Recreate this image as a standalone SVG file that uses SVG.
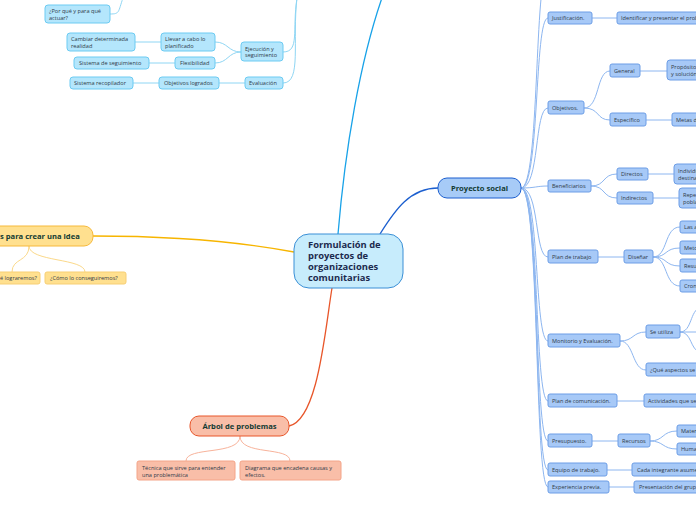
<svg xmlns="http://www.w3.org/2000/svg" width="696" height="520" viewBox="0 0 696 520">
<style>
text{font-family:"Open Sans","Liberation Sans",sans-serif;fill:#2f3a48;font-size:5.6px}
.b{fill:#a7c9f7;stroke:#6c9de6;stroke-width:1}
.c{fill:#b4e6fc;stroke:#6ccbf2;stroke-width:1}
.y{fill:#ffe08f;stroke:#f7cf74;stroke-width:1}
.r{fill:#f9bea8;stroke:#f4a488;stroke-width:1}
.lb{fill:none;stroke:#8db6f0;stroke-width:1}
.lc{fill:none;stroke:#8fd6f4;stroke-width:1}
.ly{fill:none;stroke:#fbd98a;stroke-width:1}
.lr{fill:none;stroke:#f8b39b;stroke-width:1}
.t{font-weight:bold;fill:#123b33;font-size:7.6px}
</style>
<g id="connectors">
<path d="M338 234 C345 150 360 60 383 -5" fill="none" stroke="#18a2e8" stroke-width="1.3"/>
<path d="M380 234 C395 210 410 188 438 188" fill="none" stroke="#1c5fcf" stroke-width="1.3"/>
<path d="M294 252 C230 240 160 236 93 236" fill="none" stroke="#f7b500" stroke-width="1.3"/>
<path d="M332 288 C325 330 318 420 289 426" fill="none" stroke="#e8562a" stroke-width="1.3"/>
<path class="ly" d="M29 246 C29 262 12 258 12 272"/>
<path class="ly" d="M29 246 C29 262 85 258 85 272"/>
<path class="lr" d="M240 436 C240 456 186 446 186 461"/>
<path class="lr" d="M240 436 C240 456 290 446 290 461"/>
<path class="lc" d="M297 -2 C292 30 300 52 283 52"/>
<path class="lc" d="M297 -2 C292 40 302 83 283 83"/>
<path class="lc" d="M123 -2 C118 12 120 14 110 14"/>
<path class="lc" d="M241 52 C228 52 228 42 215 42"/>
<path class="lc" d="M241 52 C228 52 228 63 215 63"/>
<path class="lc" d="M161 42 L135 42"/>
<path class="lc" d="M175 63 L149 63"/>
<path class="lc" d="M245 83 L219 83"/>
<path class="lc" d="M159 83 L133 83"/>
<g class="lb" fill="none">
<path d="M521 188 C540 188 534 -30 548 -30"/>
<path d="M521 188 C540 188 534 18 548 18"/>
<path d="M521 188 C540 188 534 108 548 108"/>
<path d="M521 188 C536 188 536 186 548 186"/>
<path d="M521 188 C540 188 534 257 548 257"/>
<path d="M521 188 C540 188 534 341 548 341"/>
<path d="M521 188 C540 188 534 401 548 401"/>
<path d="M521 188 C540 188 534 441 548 441"/>
<path d="M521 188 C540 188 534 470 548 470"/>
<path d="M521 188 C540 188 534 487 548 487"/>
<path d="M592 18 L617 18"/>
<path d="M584 108 C600 108 596 71 610 71"/>
<path d="M584 108 C600 108 596 120 610 120"/>
<path d="M640 71 L667 71"/>
<path d="M646 120 L672 120"/>
<path d="M591 186 C606 186 602 174 617 174"/>
<path d="M591 186 C606 186 602 198 617 198"/>
<path d="M648 174 L674 174"/>
<path d="M653 198 L679 198"/>
<path d="M598 257 L624 257"/>
<path d="M653 257 C668 257 664 227 680 227"/>
<path d="M653 257 C668 257 664 248 680 248"/>
<path d="M653 257 C668 257 664 266 680 266"/>
<path d="M653 257 C668 257 664 286 680 286"/>
<path d="M620 341 C634 341 632 332 646 332"/>
<path d="M620 341 C634 341 632 370 646 370"/>
<path d="M680 332 C692 332 690 310 700 308"/>
<path d="M680 332 L700 332"/>
<path d="M680 332 C692 332 690 350 700 352"/>
<path d="M617 401 L644 401"/>
<path d="M592 441 L618 441"/>
<path d="M650 441 C664 441 662 431 677 431"/>
<path d="M650 441 C664 441 662 449 677 449"/>
<path d="M607 470 L632 470"/>
<path d="M609 487 L634 487"/>
</g>
</g>
<g id="center"><rect x="294" y="234" width="109" height="54" rx="15" fill="#c7ecfc" stroke="#3a8fd6" stroke-width="1"/>
<text x="308" y="248" style="font-weight:bold;fill:#1c2a4e;font-size:9.4px">Formulación de</text>
<text x="308" y="259" style="font-weight:bold;fill:#1c2a4e;font-size:9.4px">proyectos de</text>
<text x="308" y="270" style="font-weight:bold;fill:#1c2a4e;font-size:9.4px">organizaciones</text>
<text x="308" y="281" style="font-weight:bold;fill:#1c2a4e;font-size:9.4px">comunitarias</text></g>
<g id="proyecto"><rect x="438" y="178" width="83" height="20" rx="9" fill="#a7cbf7" stroke="#1c5fcf" stroke-width="1"/><text class="t" x="479.5" y="190.8" text-anchor="middle">Proyecto social</text></g>
<g id="idea"><rect x="-30" y="226" width="123" height="20" rx="9" fill="#ffe08f" stroke="#f6b93b" stroke-width="1"/><text class="t" x="0" y="239">s para crear una idea</text></g>
<g id="logr"><rect x="-30" y="272" width="70" height="12" rx="2" class="y"/><text x="0" y="280">é lograremos?</text></g>
<g id="como"><rect x="45" y="272" width="81" height="12" rx="2" class="y"/><text x="50" y="280">¿Cómo lo conseguiremos?</text></g>
<g id="arbol"><rect x="190" y="416" width="99" height="20" rx="9" fill="#f9bea8" stroke="#e8562a" stroke-width="1"/><text class="t" x="239.5" y="429" text-anchor="middle">Árbol de problemas</text></g>
<g id="tecnica"><rect x="137" y="461" width="98" height="19" rx="2" class="r"/><text x="142" y="469.5">Técnica que sirve para entender</text><text x="142" y="476.5">una problemática</text></g>
<g id="diagrama"><rect x="240" y="461" width="101" height="19" rx="2" class="r"/><text x="245" y="469.5">Diagrama que encadena causas y</text><text x="245" y="476.5">efectos.</text></g>
<g id="porque"><rect x="45" y="5" width="65" height="18" rx="3" class="c"/><text x="49" y="13">¿Por qué y para qué</text><text x="49" y="19.5">actuar?</text></g>
<g id="cambiar"><rect x="67" y="33" width="68" height="18" rx="3" class="c"/><text x="71" y="41">Cambiar determinada</text><text x="71" y="47.5">realidad</text></g>
<g id="llevar"><rect x="161" y="33" width="54" height="18" rx="3" class="c"/><text x="165" y="41">Llevar a cabo lo</text><text x="165" y="47.5">planificado</text></g>
<g id="ejecucion"><rect x="241" y="42" width="42" height="19" rx="3" class="c"/><text x="245" y="50.5">Ejecución y</text><text x="245" y="57">seguimiento</text></g>
<g id="sistseg"><rect x="74" y="57" width="75" height="12" rx="3" class="c"/><text x="79" y="65">Sistema de seguimiento</text></g>
<g id="flex"><rect x="175" y="57" width="40" height="12" rx="3" class="c"/><text x="180" y="65">Flexibilidad</text></g>
<g id="sistrec"><rect x="70" y="77" width="63" height="12" rx="3" class="c"/><text x="74" y="85">Sistema recopilador</text></g>
<g id="objlog"><rect x="159" y="77" width="60" height="12" rx="3" class="c"/><text x="164" y="85">Objetivos logrados</text></g>
<g id="evaluacion"><rect x="245" y="77" width="38" height="12" rx="3" class="c"/><text x="249" y="85">Evaluación</text></g>
<g id="justificacion"><rect x="548" y="12" width="44" height="12" rx="2" class="b"/><text x="552" y="20">Justificación.</text></g>
<g id="identificar"><rect x="617" y="12" width="90" height="12" rx="2" class="b"/><text x="621" y="20">Identificar y presentar el problema</text></g>
<g id="objetivos"><rect x="548" y="101" width="36" height="13" rx="2" class="b"/><text x="552" y="109.5">Objetivos.</text></g>
<g id="general"><rect x="610" y="64" width="30" height="13" rx="2" class="b"/><text x="614" y="72.5">General</text></g>
<g id="proposito"><rect x="667" y="60" width="40" height="20" rx="3" class="b"/><text x="671" y="68.5">Propósito</text><text x="671" y="75.5">y solución</text></g>
<g id="especifico"><rect x="610" y="113" width="36" height="13" rx="2" class="b"/><text x="614" y="121.5">Específico</text></g>
<g id="metas"><rect x="672" y="113" width="40" height="13" rx="2" class="b"/><text x="676" y="121.5">Metas de</text></g>
<g id="beneficiarios"><rect x="548" y="180" width="43" height="12" rx="2" class="b"/><text x="552" y="188">Beneficiarios</text></g>
<g id="directos"><rect x="617" y="168" width="31" height="12" rx="2" class="b"/><text x="621" y="176">Directos</text></g>
<g id="indirectos"><rect x="617" y="192" width="36" height="12" rx="2" class="b"/><text x="621" y="200">Indirectos</text></g>
<g id="individ"><rect x="674" y="164" width="40" height="20" rx="3" class="b"/><text x="678" y="172.5">Individuos</text><text x="678" y="179.5">destinatarios</text></g>
<g id="repe"><rect x="679" y="188" width="40" height="20" rx="3" class="b"/><text x="683" y="196.5">Repercusión</text><text x="683" y="203.5">población</text></g>
<g id="plan"><rect x="548" y="250" width="50" height="13" rx="2" class="b"/><text x="552" y="258.5">Plan de trabajo</text></g>
<g id="disenar"><rect x="624" y="250" width="29" height="13" rx="2" class="b"/><text x="628" y="258.5">Diseñar</text></g>
<g id="las"><rect x="680" y="221" width="40" height="12" rx="2" class="b"/><text x="684" y="229">Las activ</text></g>
<g id="meto"><rect x="680" y="241" width="40" height="13" rx="2" class="b"/><text x="684" y="249.5">Metodología</text></g>
<g id="resu"><rect x="680" y="259" width="40" height="13" rx="2" class="b"/><text x="684" y="267.5">Resultados</text></g>
<g id="cron"><rect x="680" y="280" width="40" height="12" rx="2" class="b"/><text x="684" y="288">Cronograma</text></g>
<g id="monitorio"><rect x="548" y="334" width="72" height="13" rx="2" class="b"/><text x="552" y="342.5">Monitorio y Evaluación.</text></g>
<g id="seutiliza"><rect x="646" y="325" width="34" height="13" rx="2" class="b"/><text x="650" y="333.5">Se utiliza</text></g>
<g id="aspectos"><rect x="646" y="363" width="70" height="13" rx="2" class="b"/><text x="650" y="371.5">¿Qué aspectos se</text></g>
<g id="comunicacion"><rect x="548" y="394" width="69" height="13" rx="2" class="b"/><text x="552" y="402.5">Plan de comunicación.</text></g>
<g id="actividades"><rect x="644" y="394" width="70" height="13" rx="2" class="b"/><text x="648" y="402.5">Actividades que se</text></g>
<g id="presupuesto"><rect x="548" y="434" width="44" height="13" rx="2" class="b"/><text x="552" y="442.5">Presupuesto.</text></g>
<g id="recursos"><rect x="618" y="434" width="32" height="13" rx="2" class="b"/><text x="622" y="442.5">Recursos</text></g>
<g id="mate"><rect x="677" y="425" width="40" height="12" rx="2" class="b"/><text x="681" y="433">Materiales</text></g>
<g id="huma"><rect x="677" y="443" width="40" height="12" rx="2" class="b"/><text x="681" y="451">Humanos</text></g>
<g id="equipo"><rect x="548" y="463" width="59" height="13" rx="2" class="b"/><text x="552" y="471.5">Equipo de trabajo.</text></g>
<g id="cada"><rect x="632" y="463" width="80" height="13" rx="2" class="b"/><text x="637" y="471.5">Cada integrante asume</text></g>
<g id="experiencia"><rect x="548" y="481" width="61" height="12" rx="2" class="b"/><text x="552" y="489">Experiencia previa.</text></g>
<g id="presentacion"><rect x="634" y="481" width="80" height="12" rx="2" class="b"/><text x="639" y="489">Presentación del grupo</text></g>
</svg>
